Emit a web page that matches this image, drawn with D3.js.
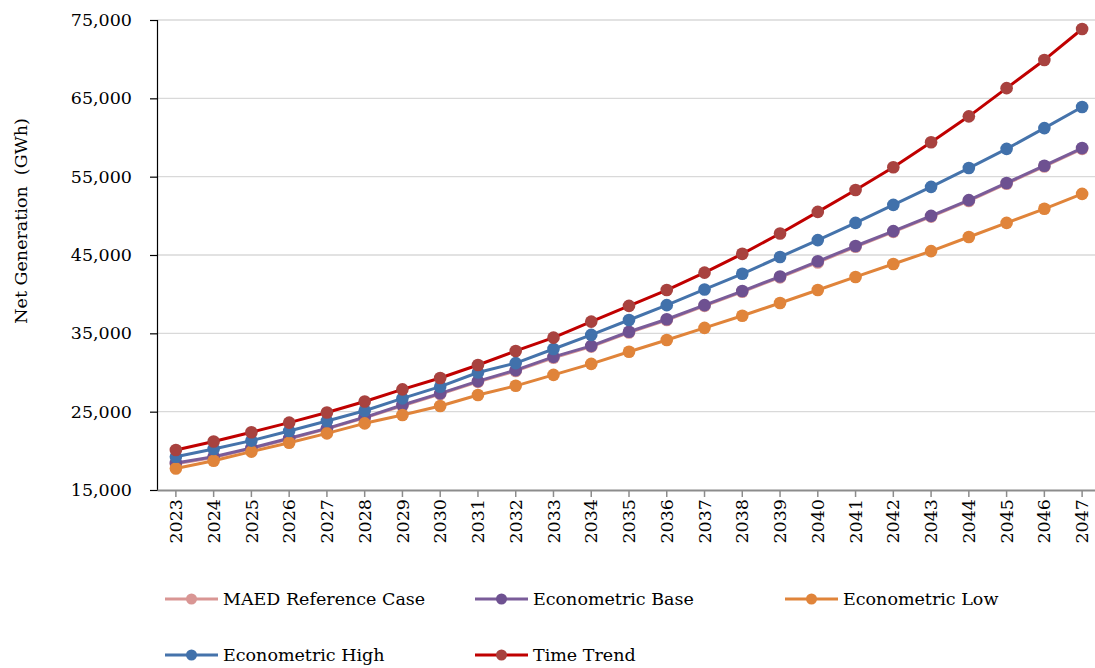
<!DOCTYPE html>
<html><head><meta charset="utf-8">
<script src="https://cdn.jsdelivr.net/npm/d3@7"></script>
<style>
html,body{margin:0;padding:0;background:#fff;}
svg{display:block;font-family:"DejaVu Serif",serif;}
</style></head>
<body><svg id="chart" width="1095" height="668"></svg>
<script>
const years = ["2023","2024","2025","2026","2027","2028","2029","2030","2031","2032","2033","2034","2035","2036","2037","2038","2039","2040","2041","2042","2043","2044","2045","2046","2047"];
const yTicks = [15000,25000,35000,45000,55000,65000,75000];
const seriesNames = ["MAED Reference Case","Econometric Base","Econometric Low","Econometric High","Time Trend"];
const maedRef   = [18350,19150,20280,21520,22800,24200,25760,27250,28800,30200,31880,33300,35100,36700,38500,40300,42150,44050,46050,47950,49900,51900,54100,56300,58550];
const econBase  = [18450,19250,20360,21600,22870,24280,25850,27340,28900,30300,32000,33400,35200,36800,38600,40400,42250,44200,46150,48050,50000,52000,54200,56400,58650];
const econLow   = [17750,18740,19900,21040,22230,23510,24570,25720,27130,28300,29700,31100,32650,34150,35700,37250,38870,40530,42200,43850,45500,47300,49100,50900,52800];
const econHigh  = [19250,20230,21300,22530,23800,25120,26700,28190,30000,31200,33000,34800,36700,38600,40600,42600,44750,46900,49100,51400,53700,56100,58550,61200,63900];
const timeTrend = [20100,21200,22380,23600,24900,26300,27850,29300,30960,32750,34450,36500,38500,40530,42750,45150,47750,50500,53300,56200,59400,62700,66300,69900,73850];

const svg = d3.select("#chart");
const m = {left:157, right:1101, top:20, bottom:490};

const x = d3.scaleBand().domain(years).range([m.left, m.right]);
const xc = d => x(d) + x.bandwidth()/2;
const y = d3.scaleLinear().domain([15000,75000]).range([m.bottom, m.top]);

// grid
svg.append("g").selectAll("line").data(yTicks.slice(1)).join("line")
  .attr("x1", m.left).attr("x2", m.right)
  .attr("y1", d=>y(d)).attr("y2", d=>y(d))
  .attr("stroke","#d9d9d9").attr("stroke-width",1.3);

// y axis
const fmt = d3.format(",");
const yAxis = svg.append("g").attr("transform",`translate(${m.left},0)`)
  .call(d3.axisLeft(y).tickValues(yTicks).tickFormat(fmt).tickSize(7).tickPadding(18));
yAxis.select(".domain").attr("stroke","#000").attr("stroke-width",1.2);
yAxis.selectAll(".tick line").attr("stroke","#000").attr("stroke-width",1.2);
yAxis.selectAll("text").attr("font-size","17.5px").attr("font-family","DejaVu Serif").attr("fill","#000");

// x axis
const xAxis = svg.append("g").attr("transform",`translate(0,${m.bottom})`)
  .call(d3.axisBottom(x).tickSize(7).tickSizeOuter(0));
xAxis.select(".domain").attr("stroke","#8c8c8c").attr("stroke-width",2);
xAxis.selectAll(".tick line").attr("stroke","#8c8c8c").attr("stroke-width",1.5);
xAxis.selectAll("text").attr("font-size","17.5px").attr("font-family","DejaVu Serif").attr("fill","#000")
  .attr("transform","rotate(-90)").attr("text-anchor","end").attr("dy","0.35em").attr("x",-9).attr("y",0);

// y label
svg.append("text").attr("transform",`translate(27,221) rotate(-90)`)
  .attr("text-anchor","middle").attr("font-size","17.5px").attr("fill","#000")
  .style("white-space","pre")
  .text("Net Generation  (GWh)");

const series = [
  {name:seriesNames[0], vals:maedRef,  line:"#d99694", mark:"#d99694"},
  {name:seriesNames[1], vals:econBase, line:"#7a5c99", mark:"#6e5191"},
  {name:seriesNames[2], vals:econLow,  line:"#e0843a", mark:"#e0843a"},
  {name:seriesNames[3], vals:econHigh, line:"#4573ab", mark:"#4171ab"},
  {name:seriesNames[4], vals:timeTrend,line:"#c00000", mark:"#a8423f"}
];

const line = d3.line().x((d,i)=>xc(years[i])).y(d=>y(d));
const plot = svg.append("g");
series.forEach(s=>{
  plot.append("path").datum(s.vals).attr("d",line).attr("fill","none")
    .attr("stroke",s.line).attr("stroke-width",3).attr("stroke-linejoin","round");
  plot.append("g").selectAll("circle").data(s.vals).join("circle")
    .attr("cx",(d,i)=>xc(years[i])).attr("cy",d=>y(d)).attr("r",6.3).attr("fill",s.mark);
});

// legend
const legPos = [[165,599],[475,599],[785,599],[165,655],[475,655]];
series.forEach((s,i)=>{
  const [lx,ly] = legPos[i];
  const g = svg.append("g").attr("transform",`translate(${lx},${ly})`);
  g.append("line").attr("x1",0).attr("x2",53).attr("y1",0).attr("y2",0).attr("stroke",s.line).attr("stroke-width",3);
  g.append("circle").attr("cx",26.5).attr("cy",0).attr("r",5.5).attr("fill",s.mark);
  g.append("text").attr("x",58).attr("y",0).attr("dy","0.35em").attr("font-size","17.5px").attr("fill","#000").text(s.name);
});
</script></body></html>
